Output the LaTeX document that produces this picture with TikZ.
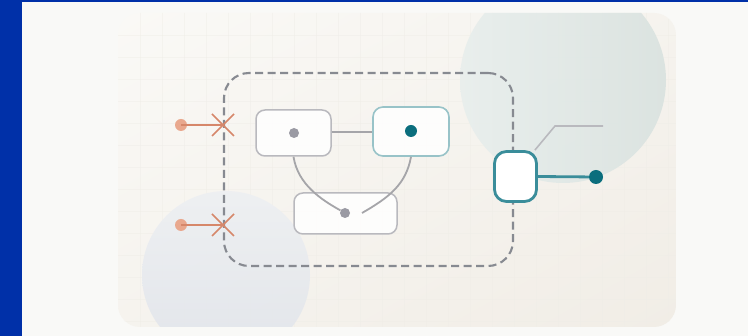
\documentclass[tikz,border=0pt]{standalone}
\usetikzlibrary{calc,shadings}
\definecolor{pagebg}{HTML}{F9F9F7}
\definecolor{bluebar}{HTML}{0030A8}
\definecolor{cardA}{HTML}{FAF9F6}
\definecolor{cardB}{HTML}{F1EDE6}
\definecolor{circTR}{HTML}{DAE3E0}
\definecolor{circBL}{HTML}{E2E5EA}
\definecolor{dashgray}{HTML}{878A91}
\definecolor{nodegray}{HTML}{B9B9BE}
\definecolor{nodeteal}{HTML}{98C3C8}
\definecolor{teal}{HTML}{0B6E7D}
\definecolor{tealline}{HTML}{3A8D9A}
\definecolor{dotgray}{HTML}{9A9AA3}
\definecolor{linegray}{HTML}{A5A5A9}
\definecolor{orangeline}{HTML}{D6876A}
\definecolor{orangedot}{HTML}{E9A88E}
\definecolor{gridc}{HTML}{EFEDE7}
\tikzset{
  box/.style={draw=nodegray, line width=1.5pt, fill=white, fill opacity=0.85, draw opacity=1, rounded corners=9pt, inner sep=0pt},
  tealbox/.style={draw=nodeteal, line width=1.6pt, fill=white, fill opacity=0.85, rounded corners=10pt, inner sep=0pt},
  portbox/.style={draw=tealline, line width=2.8pt, fill=white, rounded corners=12pt, inner sep=0pt, minimum width=42pt, minimum height=50pt},
  graydot/.style={circle, fill=dotgray, inner sep=0pt, minimum size=10pt},
  tealdot/.style={circle, fill=teal, inner sep=0pt, minimum size=12pt},
  orgdot/.style={circle, fill=orangedot, inner sep=0pt, minimum size=12pt},
  edge/.style={draw=linegray, line width=1.8pt},
  orgline/.style={draw=orangeline, line width=1.6pt},
}
\begin{document}
\begin{tikzpicture}[x=1pt,y=-1pt]
\useasboundingbox (0,0) rectangle (748,336);
\fill[pagebg] (0,0) rectangle (748,336);
\fill[bluebar] (0,0) rectangle (22,336);
\fill[bluebar] (0,0) rectangle (748,2);
% card
\begin{scope}
\path[clip] (118,13) [rounded corners=22pt] rectangle (676,327);
\shade[upper left=cardA, lower right=cardB, upper right=cardA!50!cardB, lower left=cardA!50!cardB] (118,13) rectangle (676,327);
\foreach \gx in {140,162,...,676} \draw[gridc, line width=0.5pt, opacity=0.45] (\gx,13) -- (\gx,327);
\foreach \gy in {35,57,...,327} \draw[gridc, line width=0.5pt, opacity=0.45] (118,\gy) -- (676,\gy);
\shade[left color=circTR!60!white, right color=circTR, opacity=0.95] (563,80) circle[radius=103];
\shade[top color=circBL!60!white, bottom color=circBL, opacity=0.95] (226,275) circle[radius=84];
\end{scope}
% dashed boundary
\node[draw=dashgray, line width=2.1pt, dash pattern=on 8pt off 4.5pt, rounded corners=25pt, minimum width=289pt, minimum height=193pt, inner sep=0pt] (frame) at (368.5,169.5) {};
% inner nodes
\node[box, minimum width=75pt, minimum height=46pt] (A) at (293.5,133) {};
\node[tealbox, minimum width=76pt, minimum height=49pt] (B) at (411,131.5) {};
\node[box, minimum width=103pt, minimum height=41pt] (C) at (345.5,213.5) {};
\node[graydot] (a) at (294,133) {};
\node[tealdot] (b) at (411,131) {};
\node[graydot] (c) at (345,213) {};
\coordinate (cr) at (362,213);
\draw[edge] (A.east |- 0,132) -- (B.west |- 0,132);
\draw[edge] (A.south) .. controls (298,185) and (322,200) .. (c);
\draw[edge] (B.south) .. controls (406,185) and (388,198) .. (cr);
% port
\node[portbox] (D) at (515.5,176.5) {};
\node[tealdot, minimum size=14pt] (out) at (596,177) {};
\draw[tealline, line width=2.8pt] (D.east) -- (out);
\coordinate (lbl1) at (555,126);
\coordinate (lbl2) at (603,126);
\draw[nodegray, line width=1.6pt] (D.north east) ++(-3,0) -- (lbl1) -- (lbl2);
% inputs
\foreach \n/\yy in {1/125,2/225}{
  \node[orgdot] (in\n) at (181,\yy) {};
  \coordinate (x\n) at (223,\yy);
  \draw[orgline] (in\n.center) -- (x\n);
  \draw[orgline] ($(x\n)+(-11,-11)$) -- ($(x\n)+(11,11)$);
  \draw[orgline] ($(x\n)+(-11,11)$) -- ($(x\n)+(11,-11)$);
}
\end{tikzpicture}
\end{document}
